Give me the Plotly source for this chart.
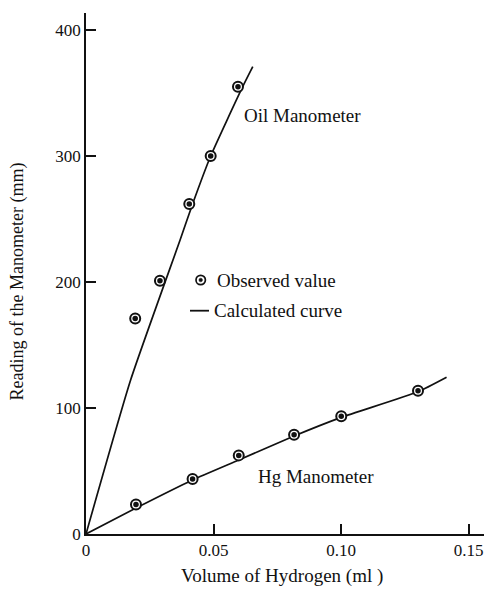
import plotly.graph_objects as go

# ---- data ----
oil_obs_x = [0.0193, 0.0290, 0.0405, 0.0489, 0.0596]
oil_obs_y = [171, 201, 262, 300, 355]
hg_obs_x = [0.0196, 0.0418, 0.0599, 0.0816, 0.1001, 0.1302]
hg_obs_y = [23.5, 43.6, 62.4, 78.8, 93.4, 113.7]

oil_curve_x = [0, 0.0175, 0.0369, 0.0418, 0.0489, 0.0614, 0.0654]
oil_curve_y = [0, 122.2, 233.3, 261.9, 300, 354.8, 370.9]
hg_curve_x = [0, 0.0196, 0.0418, 0.0599, 0.0816, 0.1001, 0.1302, 0.1414]
hg_curve_y = [0, 20.6, 42.9, 58.7, 77.8, 92.6, 112.9, 124.4]

x_tickvals = [0, 0.05, 0.10, 0.15]
x_ticktext = ["0", "0.05", "0.10", "0.15"]
y_tickvals = [0, 100, 200, 300, 400]
y_ticktext = ["0", "100", "200", "300", "400"]

FONT = "Liberation Serif"
BLACK = "#111111"

fig = go.Figure()

for cx, cy in [(oil_curve_x, oil_curve_y), (hg_curve_x, hg_curve_y)]:
    fig.add_trace(go.Scatter(x=cx, y=cy, mode="lines",
                             line=dict(color=BLACK, width=1.7, shape="spline", smoothing=0.5),
                             hoverinfo="skip", showlegend=False))

for ox, oy in [(oil_obs_x, oil_obs_y), (hg_obs_x, hg_obs_y)]:
    fig.add_trace(go.Scatter(x=ox, y=oy, mode="markers",
                             marker=dict(symbol="circle", size=10, color="white",
                                         line=dict(color=BLACK, width=2)),
                             showlegend=False))
    fig.add_trace(go.Scatter(x=ox, y=oy, mode="markers",
                             marker=dict(symbol="circle", size=5.5, color=BLACK,
                                         line=dict(width=0)),
                             showlegend=False))

# legend icons (paper coordinates)
lx, ly = 0.2882, 0.4875
fig.add_shape(type="circle", xref="paper", yref="paper",
              x0=lx - 0.0118, x1=lx + 0.0118, y0=ly - 0.009, y1=ly + 0.009,
              line=dict(color=BLACK, width=1.7), fillcolor="white")
fig.add_shape(type="circle", xref="paper", yref="paper",
              x0=lx - 0.0045, x1=lx + 0.0045, y0=ly - 0.0035, y1=ly + 0.0035,
              line=dict(color=BLACK, width=0.5), fillcolor=BLACK)
fig.add_shape(type="line", xref="paper", yref="paper",
              x0=0.2613, x1=0.309, y0=0.4286, y1=0.4286,
              line=dict(color=BLACK, width=1.8))

def ann(text, x, y, xanchor="left", size=19, angle=0):
    fig.add_annotation(text=text, xref="paper", yref="paper", x=x, y=y,
                       xanchor=xanchor, yanchor="middle", showarrow=False,
                       textangle=angle, font=dict(family=FONT, size=size, color=BLACK))

ann("Oil Manometer", 0.3912, 0.8042)
ann("Hg Manometer", 0.5774, 0.110, xanchor="center")
ann("Observed value", 0.3241, 0.4875)
ann("Calculated curve", 0.3158, 0.4286)
ann("Volume of Hydrogen (ml )", 0.4937, -0.0806, xanchor="center")
ann("Reading of the Manometer (mm)", -0.1709, 0.4846, xanchor="center", size=18, angle=-90)

fig.update_layout(
    width=484, height=594,
    margin=dict(l=86, r=0, t=13, b=60),
    paper_bgcolor="white", plot_bgcolor="white",
    showlegend=False,
    xaxis=dict(range=[0, 0.15608], showgrid=False, zeroline=False,
               showline=True, linecolor=BLACK, linewidth=1.5,
               ticks="inside", ticklen=10, tickwidth=1.5, tickcolor=BLACK,
               tickvals=x_tickvals, ticktext=x_ticktext,
               tickfont=dict(family=FONT, size=17, color=BLACK)),
    yaxis=dict(range=[0, 413.5], showgrid=False, zeroline=False,
               showline=True, linecolor=BLACK, linewidth=1.5,
               ticks="inside", ticklen=10, tickwidth=1.5, tickcolor=BLACK,
               tickvals=y_tickvals, ticktext=y_ticktext,
               tickfont=dict(family=FONT, size=17, color=BLACK)),
)

fig.write_html("out.html")
